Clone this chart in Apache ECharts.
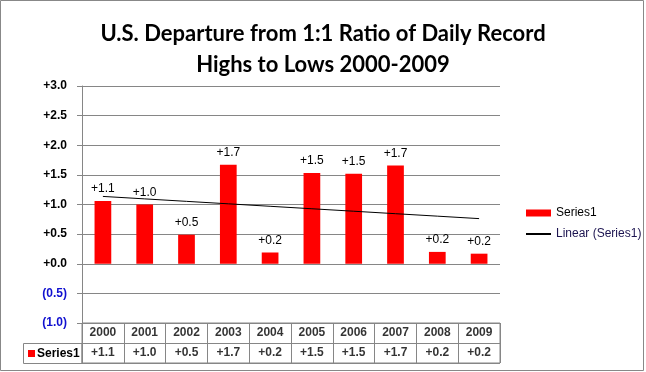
<!DOCTYPE html>
<html>
<head>
<meta charset="utf-8">
<script src="https://cdn.jsdelivr.net/npm/echarts@6/dist/echarts.min.js"></script>
<style>
html,body{margin:0;padding:0;background:#fff;}
#c{width:646px;height:372px;}
</style>
</head>
<body>
<div id="c"></div>
<script>
const years = ['2000','2001','2002','2003','2004','2005','2006','2007','2008','2009'];
const values = [1.06, 1.0, 0.49, 1.67, 0.19, 1.53, 1.52, 1.66, 0.2, 0.17];
const seriesName = 'Series1';
const trendName = 'Linear (Series1)';
const yMin = -1, yMax = 3, yStep = 0.5;

// least-squares linear trend (as Excel's "Linear" trendline)
const n = values.length;
const mx = (n - 1) / 2;
const my = values.reduce((a, b) => a + b, 0) / n;
let sxy = 0, sxx = 0;
values.forEach((v, i) => { sxy += (i - mx) * (v - my); sxx += (i - mx) * (i - mx); });
const slope = sxy / sxx;
const trend = values.map((v, i) => my + slope * (i - mx));

function fmtPlus(v) { return '+' + v.toFixed(1); }
function fmtAxis(v) {
  if (v < 0) return '{neg|(' + Math.abs(v).toFixed(1) + ')}';
  return '+' + v.toFixed(1);
}

const gridColor = '#868686';
const chart = echarts.init(document.getElementById('c'), null, {renderer: 'canvas'});
chart.setOption({
  animation: false,
  backgroundColor: '#fff',
  title: {
    text: 'U.S. Departure from 1:1 Ratio of Daily Record\nHighs to Lows 2000-2009',
    left: 'center',
    top: 13,
    textStyle: {fontFamily: 'Lato', fontWeight: 'bold', fontSize: 22, color: '#000', lineHeight: 31.5}
  },
  legend: {
    orient: 'vertical',
    left: 520,
    top: 202,
    itemWidth: 25,
    itemHeight: 7,
    itemGap: 9,
    textStyle: {fontFamily: 'Liberation Sans', fontSize: 12, color: '#000'},
    data: [
      {name: seriesName, icon: 'rect'},
      {name: trendName, itemStyle: {color: 'rgba(0,0,0,0)', borderColor: 'rgba(0,0,0,0)', borderWidth: 0},
       textStyle: {color: '#1c1450'}}
    ]
  },
  grid: [
    {left: 82, right: 146, top: 86, height: 237},
    {left: 82, right: 146, top: 323, height: 40, show: true, borderColor: gridColor, borderWidth: 1}
  ],
  xAxis: [
    {type: 'category', data: years, gridIndex: 0,
     axisLine: {show: true, onZero: false, lineStyle: {color: gridColor}},
     axisTick: {show: false}, axisLabel: {show: false}},
    {type: 'category', data: years, gridIndex: 1,
     axisLine: {show: false}, axisTick: {show: false}, axisLabel: {show: false},
     splitLine: {show: true, interval: 0, lineStyle: {color: gridColor}}}
  ],
  yAxis: [
    {type: 'value', gridIndex: 0, min: yMin, max: yMax, interval: yStep,
     axisLine: {show: true, lineStyle: {color: gridColor}},
     axisTick: {show: true, length: 5, lineStyle: {color: gridColor}},
     splitLine: {show: true, lineStyle: {color: gridColor}},
     axisLabel: {margin: 15, formatter: fmtAxis, fontFamily: 'Liberation Sans', fontWeight: 'bold', fontSize: 12, color: '#000',
       rich: {neg: {color: '#1010d0', fontFamily: 'Liberation Sans', fontWeight: 'bold', fontSize: 12}}}},
    {type: 'value', gridIndex: 1, min: 0, max: 2, interval: 1,
     axisLine: {show: false}, axisTick: {show: false}, axisLabel: {show: false},
     splitLine: {show: true, lineStyle: {color: gridColor}}}
  ],
  series: [
    {name: seriesName, type: 'bar', xAxisIndex: 0, yAxisIndex: 0, data: values, barWidth: '40%',
     itemStyle: {color: '#ff0000'},
     label: {show: true, position: 'top', distance: 6, formatter: p => fmtPlus(p.value),
       fontFamily: 'Liberation Sans', fontSize: 12, color: '#000'}},
    {name: trendName, type: 'line', xAxisIndex: 0, yAxisIndex: 0, data: trend, symbol: 'none',
     lineStyle: {color: '#000', width: 1}, itemStyle: {color: '#000'}},
    {name: 'yearsRow', type: 'scatter', xAxisIndex: 1, yAxisIndex: 1, symbolSize: 0,
     data: years.map((y, i) => [i, 1.5]),
     label: {show: true, position: 'inside', formatter: p => years[p.dataIndex],
       fontFamily: 'Liberation Sans', fontWeight: 'bold', fontSize: 12, color: '#000'}},
    {name: 'valuesRow', type: 'scatter', xAxisIndex: 1, yAxisIndex: 1, symbolSize: 0,
     data: values.map((v, i) => [i, 0.5]),
     label: {show: true, position: 'inside', formatter: p => fmtPlus(values[p.dataIndex]),
       fontFamily: 'Liberation Sans', fontWeight: 'bold', fontSize: 12, color: '#000'}}
  ],
  graphic: [
    {type: 'rect', shape: {x: 0.5, y: 0.5, width: 643, height: 370}, style: {fill: null, stroke: '#888', lineWidth: 1}, silent: true},
    {type: 'rect', shape: {x: 23.5, y: 343.5, width: 58.5, height: 20}, style: {fill: null, stroke: gridColor, lineWidth: 1}, silent: true},
    {type: 'rect', shape: {x: 28, y: 350, width: 7, height: 7}, style: {fill: '#ff0000'}, silent: true},
    {type: 'text', x: 37, y: 353.5, style: {text: seriesName, fill: '#000', font: 'bold 12px "Liberation Sans"', textVerticalAlign: 'middle'}, silent: true}
  ]
});
</script>
</body>
</html>
